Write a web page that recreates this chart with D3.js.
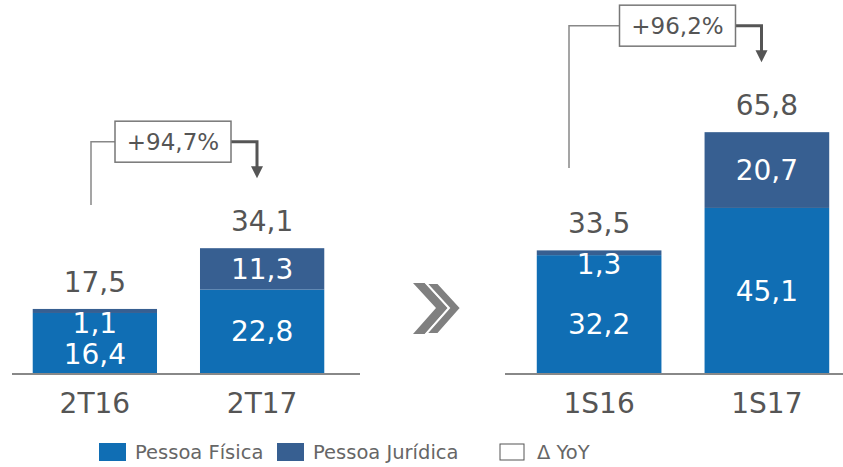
<!DOCTYPE html>
<html>
<head>
<meta charset="utf-8">
<script src="https://cdn.jsdelivr.net/npm/d3@7"></script>
<style>
  html, body { margin: 0; padding: 0; background: #fff; }
  svg { display: block; font-family: 'DejaVu Sans', Verdana, sans-serif; }
</style>
</head>
<body>
<div class="chart"></div>
<script>
const categories = ['2T16', '2T17', '1S16', '1S17'];
const pessoaFisica = [16.4, 22.8, 32.2, 45.1];
const pessoaJuridica = [1.1, 11.3, 1.3, 20.7];
const growthLabels = ['+94,7%', '+96,2%'];
const legendLabels = ['Pessoa Física', 'Pessoa Jurídica', 'Δ YoY'];

const config = {
  width: 843,
  height: 467,
  baseY: 373,
  colorPF: '#106eb4',
  colorPJ: '#375f91',
  textGray: '#555555',
  lineGray: '#888888'
};

// two panels, each one pair of bars
const panels = [
  { cats: categories.slice(0, 2), range: [16, 341], axis: [12, 360], lineX: 91, lineBottom: 205, label: growthLabels[0] },
  { cats: categories.slice(2, 4), range: [520, 846], axis: [505, 843], lineX: 569, lineBottom: 168, label: growthLabels[1] }
];

const fmt = d3.formatLocale({ decimal: ',', thousands: '.', grouping: [3], currency: ['R$', ''] }).format('.1f');

const rows = categories.map((c, i) => ({ cat: c, pf: pessoaFisica[i], pj: pessoaJuridica[i] }));
const stacked = d3.stack().keys(['pf', 'pj'])(rows);

const y = d3.scaleLinear().domain([0, 100]).range([config.baseY, config.baseY - 366]);

const svg = d3.select('.chart').append('svg')
  .attr('width', config.width)
  .attr('height', config.height);

panels.forEach(panel => {
  const x = d3.scaleBand().domain(panel.cats).range(panel.range).paddingInner(0.257).paddingOuter(0.1);
  const g = svg.append('g');

  stacked.forEach(layer => {
    g.selectAll(null)
      .data(layer.filter(d => panel.cats.includes(d.data.cat)))
      .enter()
      .append('rect')
      .attr('x', d => x(d.data.cat))
      .attr('width', x.bandwidth())
      .attr('y', d => y(d[1]))
      .attr('height', d => y(d[0]) - y(d[1]))
      .attr('fill', layer.key === 'pf' ? config.colorPF : config.colorPJ);
  });

  // segment labels
  panel.cats.forEach(cat => {
    const r = rows.find(d => d.cat === cat);
    const total = r.pf + r.pj;
    const cx = x(cat) + x.bandwidth() / 2;
    let pjY, pfY;
    if (r.pj < 3) {
      pjY = y(total) + 14;
      pfY = (pjY + 11 + y(0)) / 2;
    } else {
      pjY = (y(total) + y(r.pf)) / 2;
      pfY = (y(r.pf) + y(0)) / 2;
    }
    [[r.pj, pjY], [r.pf, pfY]].forEach(([v, yy]) => {
      g.append('text')
        .attr('x', cx).attr('y', yy).attr('dy', '0.36em')
        .attr('text-anchor', 'middle')
        .attr('font-size', 28)
        .attr('fill', '#fff')
        .text(fmt(v));
    });

    g.append('text')
      .attr('x', cx).attr('y', y(total) - 27).attr('dy', '0.36em')
      .attr('text-anchor', 'middle')
      .attr('font-size', 28)
      .attr('fill', config.textGray)
      .text(fmt(total));

    g.append('text')
      .attr('x', cx).attr('y', 403).attr('dy', '0.36em')
      .attr('text-anchor', 'middle')
      .attr('font-size', 28)
      .attr('fill', config.textGray)
      .text(cat);
  });

  // baseline
  g.append('line')
    .attr('x1', panel.axis[0]).attr('x2', panel.axis[1])
    .attr('y1', config.baseY + 1).attr('y2', config.baseY + 1)
    .attr('stroke', config.lineGray)
    .attr('stroke-width', 2);

  // growth annotation
  const r2 = rows.find(d => d.cat === panel.cats[1]);
  const tipY = y(r2.pf + r2.pj) - 70;
  const boxTop = tipY - 57;
  const boxCx = (x(panel.cats[0]) + x(panel.cats[1]) + x.bandwidth()) / 2 - 5.5;
  const boxW = 116, boxH = 41;
  const arrowX = boxCx + boxW / 2 + 26;
  const midY = boxTop + boxH / 2;

  g.append('path')
    .attr('d', `M${panel.lineX},${panel.lineBottom}V${midY}H${boxCx - boxW / 2}`)
    .attr('fill', 'none')
    .attr('stroke', config.lineGray)
    .attr('stroke-width', 1.5);

  g.append('path')
    .attr('d', `M${boxCx + boxW / 2},${midY}H${arrowX}V${tipY - 10}`)
    .attr('fill', 'none')
    .attr('stroke', '#555')
    .attr('stroke-width', 3);

  g.append('path')
    .attr('d', `M${arrowX - 6},${tipY - 12}L${arrowX + 6},${tipY - 12}L${arrowX},${tipY}Z`)
    .attr('fill', '#555');

  g.append('rect')
    .attr('x', boxCx - boxW / 2).attr('y', boxTop)
    .attr('width', boxW).attr('height', boxH)
    .attr('fill', '#fff')
    .attr('stroke', '#777')
    .attr('stroke-width', 1.5);

  g.append('text')
    .attr('x', boxCx).attr('y', midY).attr('dy', '0.36em')
    .attr('text-anchor', 'middle')
    .attr('font-size', 23)
    .attr('fill', config.textGray)
    .text(panel.label);
});

// double chevron between panels
const chevron = (x0) => `M${x0},283L${x0 + 12},283L${x0 + 35},308L${x0 + 12},334L${x0},334L${x0 + 23},308Z`;
svg.append('path').attr('d', chevron(413)).attr('fill', '#808080');
svg.append('path').attr('d', chevron(426)).attr('fill', '#808080')
  .attr('stroke', '#fff').attr('stroke-width', 2);

// legend
const legend = svg.append('g').attr('transform', 'translate(0, 452)');
const legendItems = [
  { x: 99, text: legendLabels[0], fill: config.colorPF, w: 27, h: 18 },
  { x: 277, text: legendLabels[1], fill: config.colorPJ, w: 27, h: 18 },
  { x: 500, text: legendLabels[2], fill: '#fff', w: 24, h: 16, stroke: '#555' }
];
legendItems.forEach(d => {
  legend.append('rect')
    .attr('x', d.x).attr('y', -d.h / 2)
    .attr('width', d.w).attr('height', d.h)
    .attr('fill', d.fill)
    .attr('stroke', d.stroke || 'none');
  legend.append('text')
    .attr('x', d.x + d.w + (d.stroke ? 13 : 9)).attr('y', 0).attr('dy', '0.36em')
    .attr('font-size', 19.5)
    .attr('fill', '#666')
    .text(d.text);
});
</script>
</body>
</html>
